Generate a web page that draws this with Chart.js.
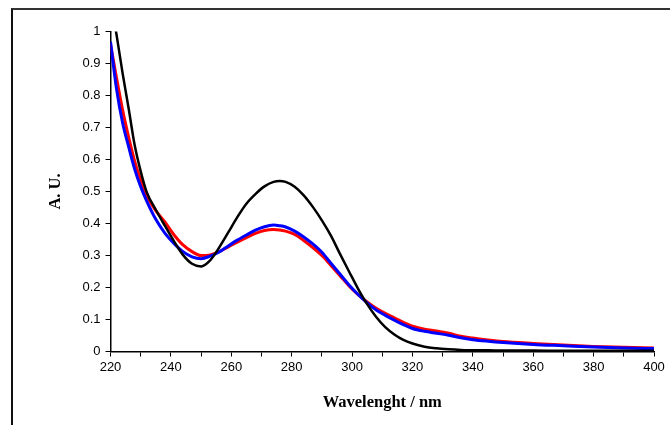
<!DOCTYPE html>
<html>
<head>
<meta charset="utf-8">
<script src="https://cdn.jsdelivr.net/npm/chart.js@4.4.1/dist/chart.umd.min.js"></script>
<style>
  html, body { margin: 0; padding: 0; background: #fff; }
  #wrap { position: relative; width: 670px; height: 425px; overflow: hidden; }
  #frame { position: absolute; left: 11px; top: 8px; width: 720px; height: 480px;
    border-left: 2px solid #111; border-top: 2px solid #333; }
  #chartUV { position: absolute; left: 0; top: 0; }
</style>
</head>
<body>
<div id="wrap">
  <div id="frame"></div>
  <canvas id="chartUV" width="670" height="425"></canvas>
</div>
<script>
// ── UV-Vis spectra (A. U. vs wavelength) ─────────

const wavelengths = [220, 222, 224, 226, 228, 230, 232, 235, 238, 241, 244, 247, 250, 253, 256, 259,
  262, 265, 268, 271, 274, 276, 278, 281, 284, 287, 290, 293, 296, 299, 302, 305, 308, 311, 314,
  317, 320, 324, 328, 332, 336, 340, 345, 350, 360, 370, 380, 390, 400];

const absBlack = [1.10, 0.99, 0.87, 0.76, 0.645, 0.563, 0.498, 0.443, 0.393, 0.345, 0.302, 0.274, 0.266,
  0.285, 0.325, 0.372, 0.420, 0.462, 0.492, 0.516, 0.530, 0.533, 0.530, 0.515, 0.488, 0.452, 0.410,
  0.362, 0.305, 0.250, 0.196, 0.148, 0.108, 0.076, 0.053, 0.036, 0.025, 0.015, 0.010, 0.007, 0.005,
  0.004, 0.004, 0.003, 0.003, 0.002, 0.002, 0.002, 0.002];

const absBlue = [0.968, 0.82, 0.715, 0.64, 0.57, 0.515, 0.47, 0.413, 0.37, 0.338, 0.312, 0.296, 0.29,
  0.298, 0.311, 0.33, 0.348, 0.364, 0.379, 0.39, 0.395, 0.393, 0.389, 0.376, 0.358, 0.336, 0.31,
  0.276, 0.242, 0.208, 0.178, 0.152, 0.13, 0.113, 0.098, 0.084, 0.072, 0.063, 0.057, 0.051, 0.043,
  0.037, 0.032, 0.028, 0.022, 0.018, 0.014, 0.011, 0.009];

const absRed = [0.96, 0.855, 0.755, 0.67, 0.595, 0.535, 0.487, 0.44, 0.405, 0.365, 0.333, 0.312, 0.30,
  0.302, 0.312, 0.327, 0.342, 0.356, 0.369, 0.378, 0.381, 0.38, 0.376, 0.366, 0.347, 0.325, 0.30,
  0.269, 0.237, 0.205, 0.178, 0.155, 0.135, 0.119, 0.105, 0.091, 0.079, 0.07, 0.064, 0.057, 0.048,
  0.042, 0.036, 0.031, 0.025, 0.02, 0.016, 0.013, 0.011];

const xTickLabels = ['220', '', '240', '', '260', '', '280', '', '300', '', '320', '', '340', '', '360', '', '380', '', '400'];
const yTickLabels = ['0', '0.1', '0.2', '0.3', '0.4', '0.5', '0.6', '0.7', '0.8', '0.9', '1'];

const pts = arr => wavelengths.map((w, i) => ({ x: w, y: arr[i] }));

const tickFont = { family: 'Liberation Sans, Arial, sans-serif', size: 13 };
const titleFont = { family: 'Liberation Serif, Times New Roman, serif', size: 16.5, weight: 'bold' };

const line = (data, color, w) => ({
  data, borderColor: color, backgroundColor: color, borderWidth: w,
  pointRadius: 0, tension: 0.4, cubicInterpolationMode: 'monotone', fill: false
});

new Chart(document.getElementById('chartUV'), {
  type: 'line',
  data: {
    datasets: [
      line(pts(absBlack), '#000000', 2.5),
      line(pts(absBlue), '#0000ff', 3),
      line(pts(absRed), '#ff0000', 3)
    ]
  },
  options: {
    responsive: false, animation: false,
    layout: { padding: { top: 31.5, right: 16, bottom: 0, left: 0 } },
    plugins: { legend: { display: false }, tooltip: { enabled: false } },
    scales: {
      x: {
        type: 'linear', min: 220, max: 400,
        afterFit: s => { s.height = 73.5; },
        afterBuildTicks: s => { s.ticks = xTickLabels.map((_, i) => ({ value: 220 + i * 10 })); },
        border: { color: '#000', width: 1.5 },
        grid: { drawOnChartArea: false, drawTicks: true, tickLength: 5, color: '#000', lineWidth: 1 },
        ticks: { autoSkip: false, maxRotation: 0, padding: 3, color: '#000', font: tickFont,
          callback: (v, i) => xTickLabels[i] },
        title: { display: true, text: 'Wavelenght / nm', color: '#000', font: titleFont,
          padding: { top: 0, bottom: 12 } }
      },
      y: {
        min: 0, max: 1,
        afterFit: s => { s.width = 110.5; },
        afterBuildTicks: s => { s.ticks = yTickLabels.map((_, i) => ({ value: i / 10 })); },
        border: { color: '#000', width: 1.5 },
        grid: { drawOnChartArea: false, drawTicks: true, tickLength: 5, color: '#000', lineWidth: 1 },
        ticks: { autoSkip: false, padding: 5, color: '#000', font: tickFont,
          callback: (v, i) => yTickLabels[i] },
        title: { display: true, text: 'A. U.', color: '#000', font: titleFont,
          padding: { top: 46, bottom: 0 } }
      }
    }
  }
});
</script>
</body>
</html>
